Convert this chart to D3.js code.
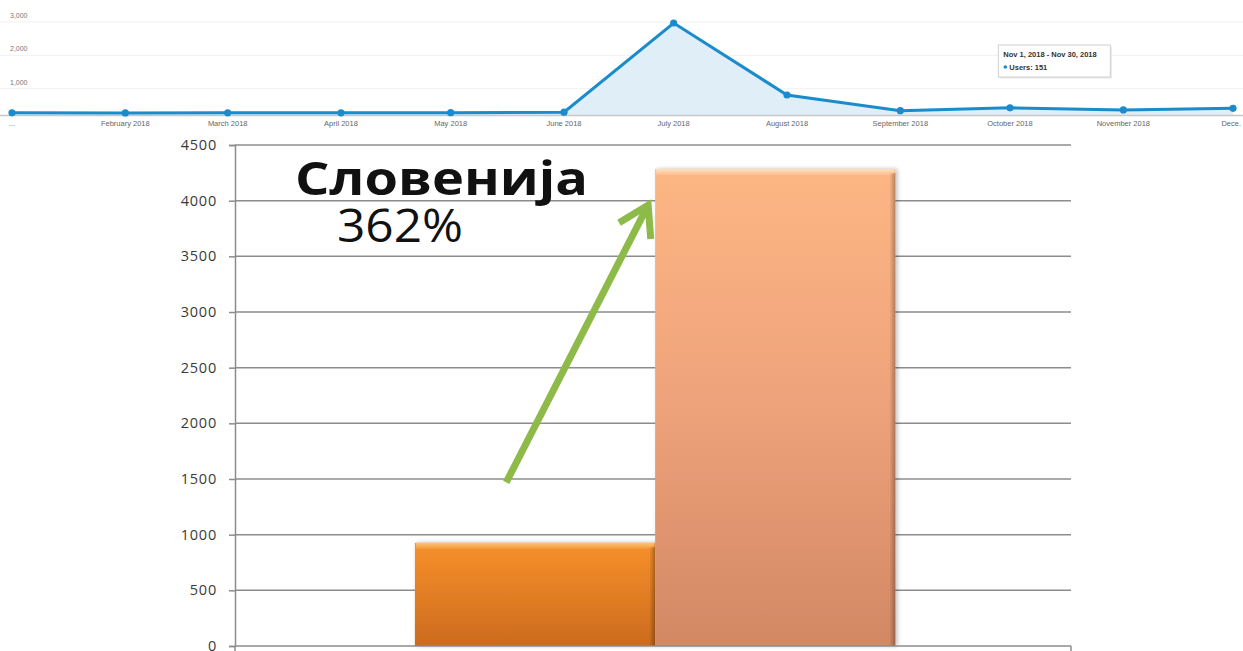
<!DOCTYPE html>
<html>
<head>
<meta charset="utf-8">
<script src="https://cdn.jsdelivr.net/npm/d3@7"></script>
<style>
  body { margin: 0; background: #fff; }
  svg { display: block; }
  .ga text { font-family: "Liberation Sans", Arial, sans-serif; }
  .bars text { font-family: "Open Sans", "Noto Sans", sans-serif; }
</style>
</head>
<body>
<script>
// Users per month (Google Analytics panel, 2018)
var months = ["2018-01-01", "2018-02-01", "2018-03-01", "2018-04-01", "2018-05-01", "2018-06-01",
              "2018-07-01", "2018-08-01", "2018-09-01", "2018-10-01", "2018-11-01", "2018-12-01"];
var users = [65, 62, 64, 66, 70, 85, 2760, 600, 130, 215, 151, 200];
var gaTicks = [1000, 2000, 3000];

// Bar chart: one category, two periods
var category = ["Словенија"];
var periods = ["before", "after"];
var periodValues = [927, 4283];
var barTicks = [0, 500, 1000, 1500, 2000, 2500, 3000, 3500, 4000, 4500];
var growthLabel = "362%";

var w = 1243, h = 651;
var parse = d3.timeParse("%Y-%m-%d");
var dates = months.map(parse);

var svg = d3.select("body").append("svg")
    .attr("width", w)
    .attr("height", h);

// ---------- top: analytics line chart ----------
var ga = svg.append("g").attr("class", "ga");

var xTop = d3.scaleTime()
    .domain([dates[0], dates[dates.length - 1]])
    .range([12, 1233]);
var yTop = d3.scaleLinear()
    .domain([0, 3000])
    .range([115, 15]);

// faint gridlines and labels
ga.selectAll(".grid")
    .data(gaTicks)
    .enter().append("line")
    .attr("x1", 0).attr("x2", w)
    .attr("y1", function(d) { return yTop(d) + 7; })
    .attr("y2", function(d) { return yTop(d) + 7; })
    .attr("stroke", "#f1f1f1");

ga.selectAll(".ylab")
    .data(gaTicks)
    .enter().append("text")
    .attr("x", 10)
    .attr("y", function(d) { return yTop(d) + 3; })
    .attr("font-size", 7)
    .attr("fill", "#777")
    .text(d3.format(","));

var pts = dates.map(function(d, i) { return [d, users[i]]; });

ga.append("path")
    .datum(pts)
    .attr("fill", "#e0eef7")
    .attr("d", d3.area()
      .x(function(d) { return xTop(d[0]); })
      .y0(yTop(0))
      .y1(function(d) { return yTop(d[1]); }));

// baseline
ga.append("line")
    .attr("x1", 0).attr("x2", w)
    .attr("y1", yTop(0) + 0.5).attr("y2", yTop(0) + 0.5)
    .attr("stroke", "#c8c8c8")
    .attr("stroke-width", 1.5);

ga.append("path")
    .datum(pts)
    .attr("fill", "none")
    .attr("stroke", "#1a8bcb")
    .attr("stroke-width", 3)
    .attr("d", d3.line()
      .x(function(d) { return xTop(d[0]); })
      .y(function(d) { return yTop(d[1]); }));

ga.selectAll(".dot")
    .data(pts)
    .enter().append("circle")
    .attr("cx", function(d) { return xTop(d[0]); })
    .attr("cy", function(d) { return yTop(d[1]); })
    .attr("r", 3.6)
    .attr("fill", "#1a8bcb");

// month labels (the edges are truncated like in the screenshot)
var fmtMonth = d3.timeFormat("%B %Y");
ga.selectAll(".xlab")
    .data(dates)
    .enter().append("text")
    .attr("x", function(d, i) { return i == dates.length - 1 ? w - 2 : xTop(d); })
    .attr("y", 126)
    .attr("font-size", 7.5)
    .attr("fill", "#666")
    .attr("text-anchor", function(d, i) { return i == dates.length - 1 ? "end" : "middle"; })
    .text(function(d, i) {
      if (i == 0) return "...";
      if (i == dates.length - 1) return fmtMonth(d).slice(0, 4) + ".";
      return fmtMonth(d);
    });

// tooltip for November
var tipIdx = 10;
var tip = ga.append("g")
    .attr("transform", "translate(" + (xTop(dates[tipIdx]) - 125) + ",45)");
tip.append("rect")
    .attr("x", 1.5).attr("y", 1.5)
    .attr("width", 112).attr("height", 32)
    .attr("fill", "#e8e8e8");
tip.append("rect")
    .attr("width", 112).attr("height", 32)
    .attr("fill", "#fff")
    .attr("stroke", "#d0d0d0");
var fmtDay = d3.timeFormat("%b %-d, %Y");
var monthEnd = d3.timeDay.offset(d3.timeMonth.offset(dates[tipIdx], 1), -1);
tip.append("text")
    .attr("x", 5).attr("y", 12)
    .attr("font-size", 7.5)
    .attr("font-weight", "bold")
    .attr("fill", "#333")
    .text(fmtDay(dates[tipIdx]) + " - " + fmtDay(monthEnd));
tip.append("circle")
    .attr("cx", 7).attr("cy", 22)
    .attr("r", 1.8)
    .attr("fill", "#1a8bcb");
tip.append("text")
    .attr("x", 11).attr("y", 25)
    .attr("font-size", 7.5)
    .attr("font-weight", "bold")
    .attr("fill", "#333")
    .text("Users: " + users[tipIdx]);

// ---------- bottom: bar chart ----------
var bars = svg.append("g").attr("class", "bars");

var left = 235, right = 1071;
var yB = d3.scaleLinear()
    .domain([0, 4500])
    .range([646, 145]);
var x0 = d3.scaleBand()
    .domain(category)
    .range([left, right])
    .paddingInner(0)
    .paddingOuter(0.37)
    .align(0.506);
var x1 = d3.scaleBand()
    .domain(periods)
    .range([0, x0.bandwidth()]);

// gradients
var defs = svg.append("defs");
function grad(id, stops) {
  var g = defs.append("linearGradient")
      .attr("id", id)
      .attr("x1", 0).attr("y1", 0).attr("x2", 0).attr("y2", 1);
  stops.forEach(function(s) {
    g.append("stop").attr("offset", s[0]).attr("stop-color", s[1]);
  });
}
grad("bar0", [[0, "#f7902b"], [1, "#cc6b1e"]]);
grad("bar1", [[0, "#fdb684"], [0.5, "#eea27a"], [1, "#d28864"]]);
grad("bev0", [[0, "#fcc477"], [1, "#f59a3a"]]);
grad("bev1", [[0, "#ffe3c2"], [1, "#fdbb8c"]]);
var hGrad = defs.append("linearGradient")
    .attr("id", "edge")
    .attr("x1", 0).attr("y1", 0).attr("x2", 1).attr("y2", 0);
hGrad.append("stop").attr("offset", 0).attr("stop-color", "#000").attr("stop-opacity", 0);
hGrad.append("stop").attr("offset", 1).attr("stop-color", "#000").attr("stop-opacity", 0.28);
var shadow = defs.append("filter").attr("id", "shadow")
    .attr("x", "-5%").attr("y", "-5%").attr("width", "115%").attr("height", "110%");
shadow.append("feDropShadow")
    .attr("dx", 2).attr("dy", 0)
    .attr("stdDeviation", 2)
    .attr("flood-color", "#000")
    .attr("flood-opacity", 0.25);

// gridlines
bars.selectAll(".grid")
    .data(barTicks.slice(1))
    .enter().append("line")
    .attr("x1", left).attr("x2", right)
    .attr("y1", function(d) { return yB(d); })
    .attr("y2", function(d) { return yB(d); })
    .attr("stroke", "#8c8c8c")
    .attr("stroke-width", 1.5);

// y axis
var yAxis = bars.append("g")
    .attr("transform", "translate(" + left + ",0)")
    .call(d3.axisLeft(yB).tickValues(barTicks).tickSize(6).tickPadding(12).tickFormat(d3.format("d")));
yAxis.select(".domain").attr("stroke", "#8c8c8c").attr("stroke-width", 1.5);
yAxis.selectAll(".tick line").attr("stroke", "#8c8c8c").attr("stroke-width", 1.5);
yAxis.selectAll("text")
    .attr("font-size", 14.5)
    .attr("fill", "#3a3a3a")
    .attr("letter-spacing", 0.8)
    .attr("font-family", "'Open Sans', sans-serif");

// bars
var bar = bars.selectAll(".bar")
    .data(periodValues)
    .enter().append("g")
    .attr("class", "bar")
    .attr("filter", "url(#shadow)");

bar.append("rect")
    .attr("x", function(d, i) { return x0(category[0]) + x1(periods[i]); })
    .attr("y", function(d) { return yB(d); })
    .attr("width", x1.bandwidth())
    .attr("height", function(d) { return yB(0) - yB(d); })
    .attr("fill", function(d, i) { return "url(#bar" + i + ")"; });

// top bevel
bar.append("rect")
    .attr("x", function(d, i) { return x0(category[0]) + x1(periods[i]) + 1; })
    .attr("y", function(d) { return yB(d); })
    .attr("width", x1.bandwidth() - 2)
    .attr("height", 6)
    .attr("fill", function(d, i) { return "url(#bev" + i + ")"; });

// right edge shading
bar.append("rect")
    .attr("x", function(d, i) { return x0(category[0]) + x1(periods[i]) + x1.bandwidth() - 6; })
    .attr("y", function(d) { return yB(d) + 4; })
    .attr("width", 6)
    .attr("height", function(d) { return yB(0) - yB(d) - 4; })
    .attr("fill", "url(#edge)");

// x axis line with end ticks
bars.append("line")
    .attr("x1", left).attr("x2", right)
    .attr("y1", yB(0)).attr("y2", yB(0))
    .attr("stroke", "#8c8c8c")
    .attr("stroke-width", 1.5);
bars.selectAll(".xtick")
    .data([left, right])
    .enter().append("line")
    .attr("x1", function(d) { return d; }).attr("x2", function(d) { return d; })
    .attr("y1", yB(0)).attr("y2", yB(0) + 6)
    .attr("stroke", "#8c8c8c")
    .attr("stroke-width", 1.5);

// green arrow, from inside the first bar up to the second bar
var bx0 = x0(category[0]) + x1(periods[0]);
var bx1 = x0(category[0]) + x1(periods[1]);
var a0 = [bx0 + x1.bandwidth() * 0.38, yB(1470)];
var a1 = [bx1 - 7, yB(3960)];
var ang = Math.atan2(a1[1] - a0[1], a1[0] - a0[0]);
var head = 34;
function wing(off) {
  return [a1[0] - head * Math.cos(ang + off), a1[1] - head * Math.sin(ang + off)];
}
var arrow = bars.append("g")
    .attr("stroke", "#8dba48")
    .attr("stroke-width", 7)
    .attr("fill", "none");
arrow.append("line")
    .attr("x1", a0[0]).attr("y1", a0[1])
    .attr("x2", a1[0]).attr("y2", a1[1]);
arrow.append("path")
    .attr("stroke-linejoin", "miter")
    .attr("d", d3.line()([wing(0.55), a1, wing(-0.55)]));

// title and growth
bars.append("text")
    .attr("x", 295)
    .attr("y", 195)
    .attr("font-size", 46)
    .attr("font-weight", "bold")
    .attr("fill", "#111")
    .attr("textLength", 293)
    .attr("lengthAdjust", "spacingAndGlyphs")
    .text(category[0]);

bars.append("text")
    .attr("x", 337)
    .attr("y", 242)
    .attr("font-size", 45)
    .attr("fill", "#111")
    .attr("textLength", 126)
    .attr("lengthAdjust", "spacingAndGlyphs")
    .text(growthLabel);
</script>
</body>
</html>
